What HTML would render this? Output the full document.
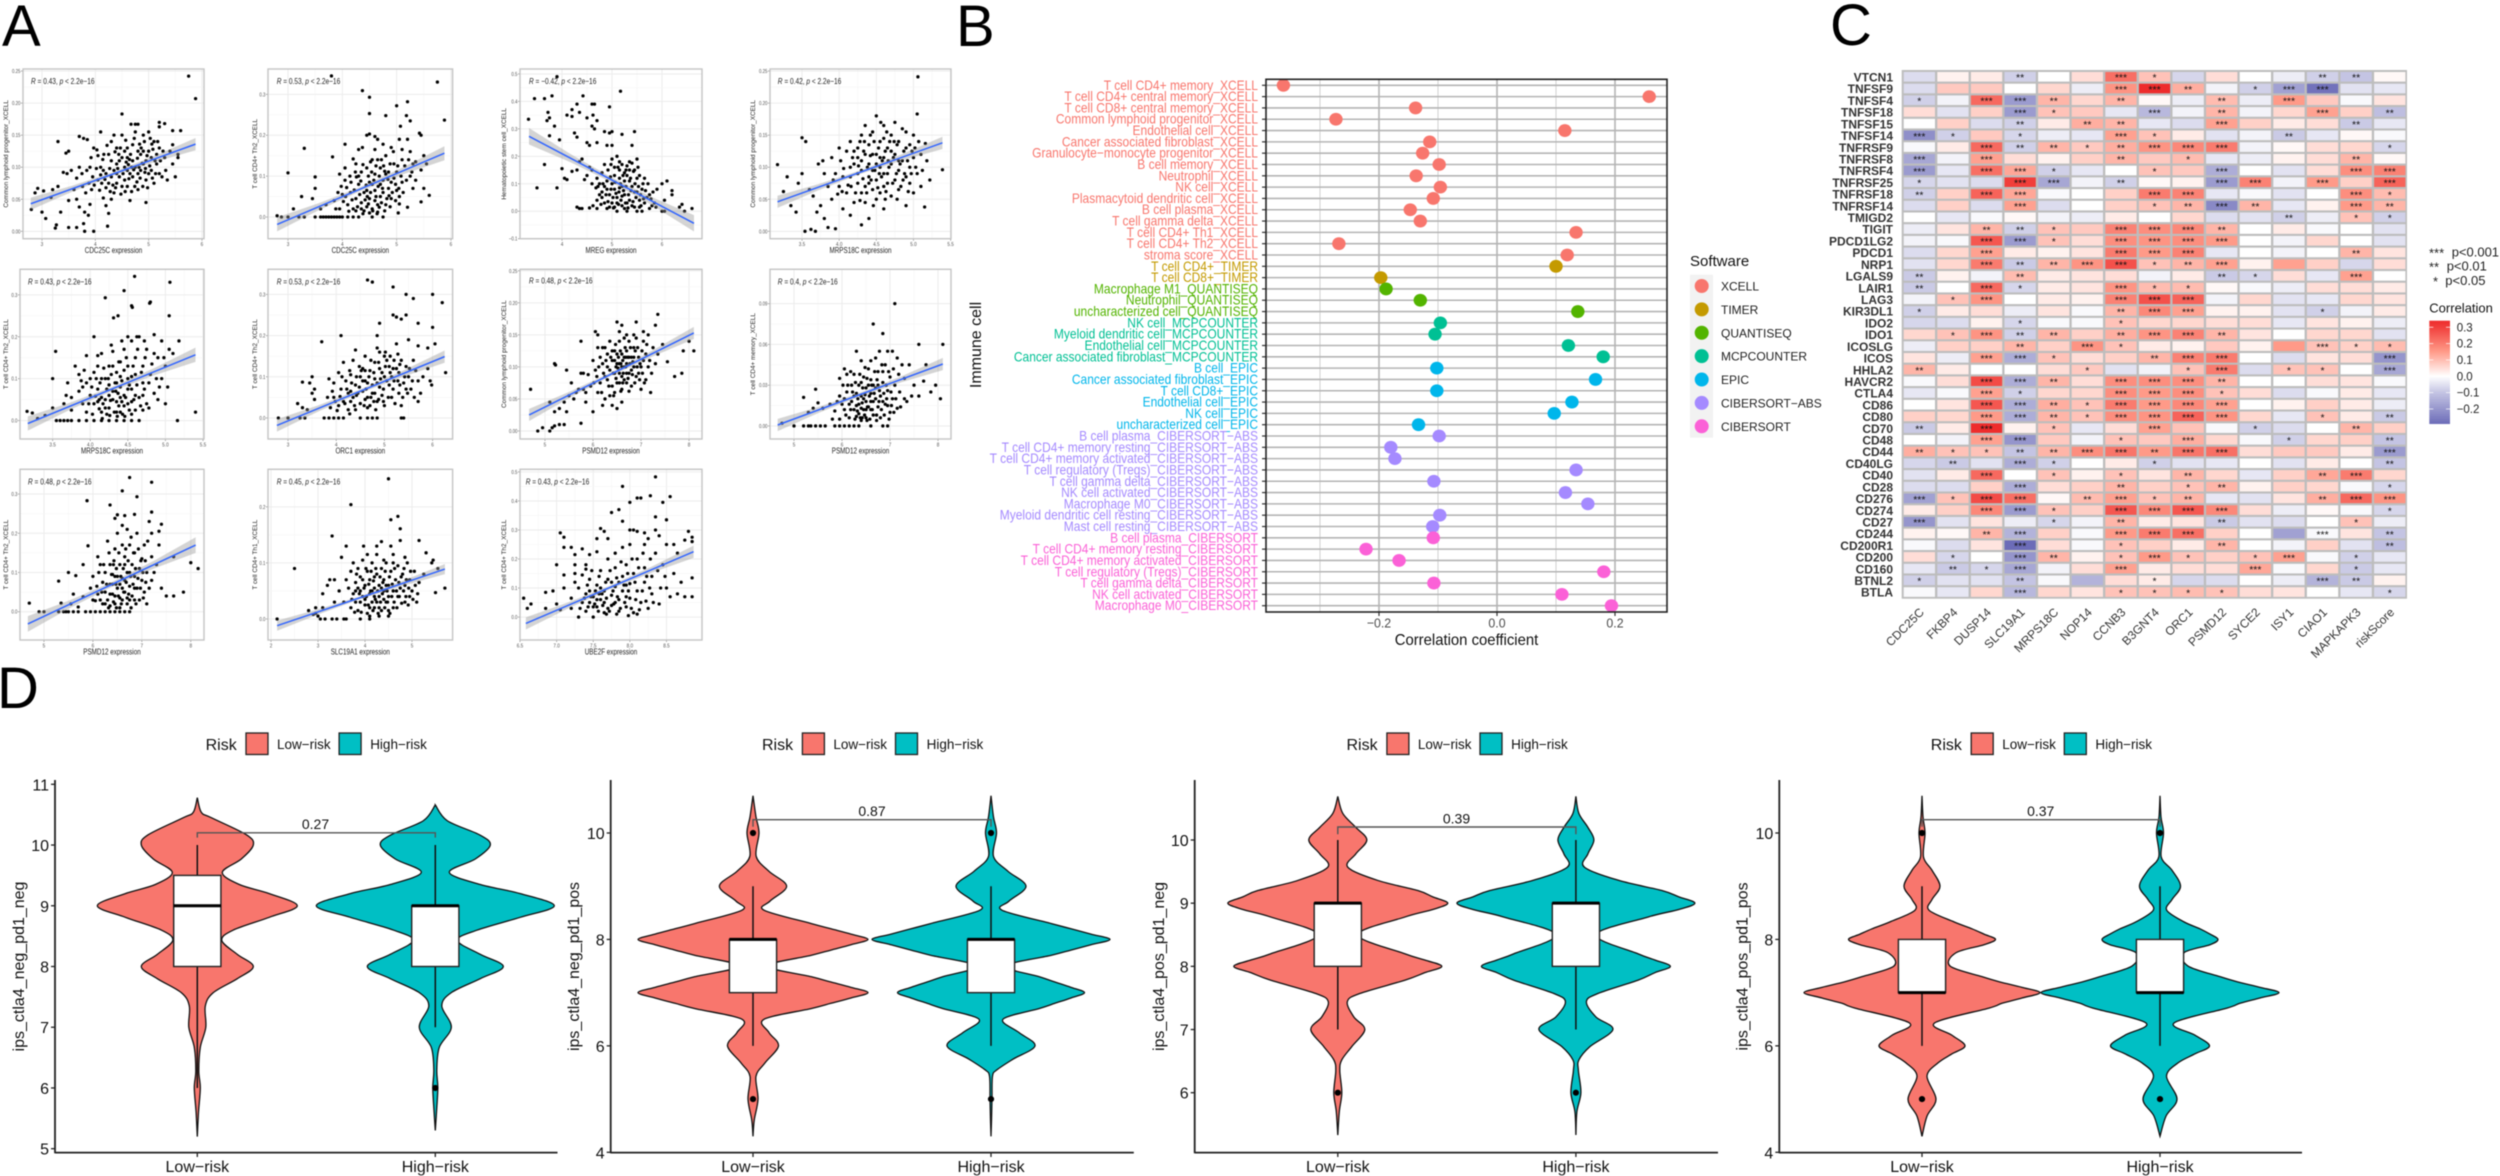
<!DOCTYPE html>
<html lang="en">
<head>
<meta charset="utf-8">
<title>Immune correlation figure</title>
<style>
html,body{margin:0;padding:0;background:#fff;width:2500px;height:1176px;overflow:hidden}
svg{display:block;filter:blur(.45px)}
text{font-family:"Liberation Sans",sans-serif}
</style>
</head>
<body>
<svg id="figure" xmlns="http://www.w3.org/2000/svg" width="2500" height="1176" viewBox="0 0 2500 1176">
<rect x="0" y="0" width="2500" height="1176" fill="#fff"/>
<text x="2" y="46" font-size="58">A</text>
<text x="956" y="46" font-size="58">B</text>
<text x="1830" y="45" font-size="58">C</text>
<text x="-3" y="708" font-size="58">D</text>
</svg>
<script>
/* ---------- panel A: scatter data, flat x,y pairs ---------- */
const scatter1 = [5.75,.242,5.88,.207,4.5,.183,4.1,.155,3.3,.14,5.2,.17,5.2,.163,5.3,.168,4.67,.167,4.75,.167,4.8,.167,2.8,.034,2.87,.06,2.92,.067,3.03,.063,3,.03,3.07,.02,3.17,.053,3.25,.005,3.27,.01,3.2,.065,3.3,.07,3.35,.03,3.5,.006,3.65,.006,3.78,.012,3.8,0,3.87,.025,3.97,0,4.23,.008,3.45,.122,3.5,.125,3.4,.092,3.47,.09,3.55,.095,3.6,.065,3.65,.083,3.7,.1,3.75,.09,3.7,.148,3.78,.145,3.85,.143,3.5,.048,3.65,.05,3.7,.038,3.8,.03,3.9,.042,3.93,.065,3.95,.085,3.97,.13,4.03,.127,4.05,.118,4.1,.1,4.12,.075,4.15,.052,4.2,.04,4.25,.028,4.3,.05,4.35,.06,4.2,.09,4.25,.12,4.3,.14,4.35,.15,4.4,.105,4.45,.085,4.5,.07,4.5,.15,4.55,.125,4.6,.095,4.6,.07,4.65,.048,4.7,.11,4.7,.135,4.75,.155,4.8,.09,4.8,.065,4.85,.12,4.9,.15,4.9,.105,4.95,.045,4.95,.08,5,.155,5,.125,5.05,.095,5.1,.075,5.1,.14,5.15,.105,5.2,.13,5.25,.085,5.3,.115,5.35,.08,5.4,.125,5.45,.105,5.45,.135,5.5,.085,5.55,.115,5.55,.12,5.6,.157,5.45,.157,5.2,.09,4.4,.13,4.55,.1,4.3,.085,4.15,.095,4.05,.08,3.9,.1,4.5,.115,4.65,.09,4.75,.1,4.85,.095,4.95,.11,4.4,.075,4.25,.075,4.6,.115,4.45,.11,4.3,.11,5,.09,5.05,.115,4.35,.095,4.1,.088,4.2,.068,4.55,.08,4.7,.085,4.9,.125,5.15,.12,4.8,.125,4.6,.13,4.4,.09];
const scatter1Core = [4.08,.064,4.14,.112,4.18,.081,4.22,.134,4.27,.098,4.33,.072,4.37,.124,4.42,.098,4.47,.13,4.48,.058,4.52,.09,4.57,.142,4.58,.108,4.63,.082,4.66,.12,4.68,.062,4.72,.096,4.73,.145,4.78,.077,4.79,.114,4.83,.136,4.84,.083,4.88,.106,4.89,.07,4.92,.14,4.93,.092,4.97,.118,4.98,.068,5.02,.102,5.03,.145,5.07,.083,5.08,.128,5.12,.11,5.13,.09,5.17,.14,5.22,.11,5.27,.125,5.32,.095,4.02,.098,3.98,.072,3.92,.115,3.88,.075,3.84,.095,3.82,.06,3.76,.07,4.44,.12,4.62,.104,4.74,.07,4.86,.13,4.64,.112,4.38,.068,4.28,.062,4.16,.12,4.82,.1,4.94,.098,5.06,.136,4.56,.062,4.68,.1];
const scatter2 = [5.75,.33,3.8,.345,4.37,.309,4.5,.293,5,.272,5.2,.282,4.5,.253,4.8,.248,5.18,.248,5.88,.237,5.25,.235,5.07,.222,3.3,.168,3,.108,3.5,.098,3.82,.147,5.42,.205,5.45,.2,5.2,.19,5.05,.19,4.45,.2,4.5,.203,4.6,.197,4.65,.19,4.2,.142,4.3,.165,4.37,.17,4.05,.178,4.6,.165,4.75,.178,4.9,.17,5.1,.165,5.25,.16,5.5,.15,5.3,.13,5.55,.13,5.45,.115,5.35,.09,5.5,.07,5.6,.053,5.45,.037,5.2,.024,5.05,.032,5.03,.01,3.45,.045,3.25,.05,3.5,.07,3.1,.02,3,0,2.8,.003,2.88,0,3.2,0,3.3,0,3.5,0,3.6,0,3.65,0,3.7,0,3.75,0,3.8,0,3.85,0,3.9,0,3.95,0,4,0,4.1,0,4.2,0,4.3,0,4.55,0,4.75,0,3.6,.02,3.7,.03,3.85,.04,3.95,.02,4,.055,4.05,.09,4.05,.12,3.95,.105,4.1,.03,4.15,.06,4.2,.02,4.25,.045,4.3,.08,4.3,.1,4.35,.035,4.4,.015,4.4,.06,4.45,.12,4.5,.085,4.5,.045,4.55,.14,4.55,.02,4.6,.065,4.6,.105,4.65,.03,4.7,.12,4.7,.05,4.75,.09,4.8,.15,4.8,.03,4.85,.07,4.85,.11,4.9,.045,4.95,.095,4.95,.13,5,.065,5,.11,5.05,.05,5.1,.085,5.15,.125,5.25,.1,5.3,.07,5.35,.135,4.45,.025,4.35,.11,4.65,.14,4.6,.04,4.75,.06,4.25,.015,4.35,.02,4.5,.01,4.65,.012,4.45,.065,4.7,.08,4.9,.085,4.55,.08,4.25,.13,4.8,.105,5.1,.14];
const scatter2Core = [4.02,.038,4.08,.072,4.12,.014,4.14,.1,4.18,.042,4.22,.066,4.24,.11,4.28,.025,4.32,.055,4.34,.088,4.38,.128,4.38,.008,4.42,.042,4.44,.078,4.48,.032,4.48,.1,4.52,.06,4.52,.135,4.56,.015,4.58,.09,4.62,.05,4.62,.125,4.64,.008,4.66,.075,4.68,.1,4.72,.035,4.72,.14,4.74,.07,4.78,.112,4.78,.015,4.82,.045,4.84,.092,4.88,.13,4.88,.025,4.92,.06,4.94,.16,4.98,.08,4.98,.04,5.02,.125,5.04,.07,5.08,.1,5.12,.06,5.18,.09,5.22,.14,5.28,.11,3.88,.02,3.92,.06,3.98,.075,4.06,.05,4.16,.085,4.26,.098,4.46,.05,4.54,.11,4.68,.024,4.76,.125,4.86,.052];
const scatter3 = [3.33,.335,3.45,.41,3.65,.41,3.8,.42,3.9,.49,4.42,.42,5.17,.437,4.6,.39,4.65,.39,4.3,.39,4.2,.37,4.1,.35,4.2,.345,4.35,.36,4.5,.34,4.62,.35,4.7,.33,4.6,.31,4.65,.3,4.95,.38,3.72,.36,3.75,.34,3.7,.33,3.85,.31,3.95,.26,3.75,.275,4.25,.285,4.3,.27,4.5,.25,4.55,.24,4.7,.25,4.85,.29,4.95,.285,5,.29,5.2,.28,5.45,.29,5.4,.24,4.9,.24,5,.24,3.5,.085,3.65,.17,3.9,.085,4,.155,4.05,.12,4.1,.115,4.2,.145,4.3,.15,4.35,.18,4.4,.19,4.45,.115,4.5,.13,4.6,.15,4.7,.12,4.8,.14,4.85,.17,4.9,.11,5,.19,5.1,.2,5.2,.17,5.3,.165,5.4,.175,5.5,.19,5.55,.13,5.65,.12,5.75,.06,5.9,.08,6,.1,6.1,.11,6.2,.075,6.2,.06,6.05,.04,6,0,6.05,0,6.35,.015,6.4,.025,6.6,.01,6.45,0,4.3,.015,4.35,.01,4.4,.01,4.7,.01,4.7,.04,4.75,.06,4.8,.07,4.85,.03,4.9,.01,4.95,.06,5,.1,5,.03,5.05,.08,5.1,0,5.1,.05,5.15,.12,5.2,.02,5.2,.09,5.25,.06,5.3,0,5.3,.13,5.35,.04,5.4,.09,5.4,.02,5.45,.07,5.5,0,5.5,.12,5.55,.04,5.6,.08,5.6,0,5.65,.03,5.7,.05,5.75,.01,5.8,.02,5.85,.03,4.9,.08,5.15,.15,5.25,.11,5.35,.15,5.45,.15,5.05,.13,4.85,.09,4.8,.05,5.3,.03,5.1,.03,5.2,.055,4.95,.015,5.25,.01,5.45,.015,5.55,.015,5.15,.085,5.35,.11,5.5,.07,5.05,.015];
const scatter3Core = [4.72,.09,4.78,.025,4.82,.1,4.88,.06,4.92,.035,4.97,.125,4.98,.08,5.02,.05,5.03,.012,5.06,.105,5.08,.065,5.12,.16,5.13,.025,5.14,.07,5.17,.1,5.18,.04,5.22,.13,5.23,.075,5.27,.03,5.28,.15,5.28,.09,5.32,.012,5.33,.06,5.37,.12,5.38,.075,5.42,.035,5.43,.145,5.46,.1,5.48,.05,5.52,.16,5.53,.09,5.57,.06,5.58,.02,5.62,.1,5.63,.045,5.67,.075,5.72,.1,5.78,.045,5.82,.07,5.88,.015,5.15,.18,5.35,.18,5.25,.14,4.92,.15,4.98,.17,5.05,.16,4.75,.1,4.6,.1,4.55,.16,4.62,.02,4.55,.012,4.68,.085];
const scatter4 = [3.17,.104,3.5,.146,3.55,.14,3.3,.085,3.25,.062,3.45,.075,3.5,.09,3.54,0,3.62,.003,3.68,0,3.85,.006,3.95,.004,3.35,.04,3.42,.03,3.6,.065,3.65,.055,3.7,.03,3.75,.04,3.8,.02,3.72,.105,3.78,.11,3.85,.07,3.9,.05,3.95,.09,4,.13,4.02,.11,4,.07,4.05,.035,4.1,.06,4.1,.125,4.15,.14,4.15,.085,4.2,.045,4.2,.105,4.25,.13,4.25,.075,4.3,.095,4.3,.15,4.3,.06,4.35,.12,4.35,.045,4.4,.085,4.4,.135,4.4,.105,4.45,.065,4.45,.155,4.45,.095,4.5,.12,4.5,.08,4.5,.05,4.55,.14,4.55,.1,4.6,.07,4.6,.115,4.6,.165,4.65,.09,4.65,.13,4.7,.055,4.7,.105,4.7,.15,4.75,.08,4.75,.12,4.8,.14,4.8,.095,4.8,.065,4.85,.11,4.85,.16,4.9,.085,4.9,.13,4.95,.1,4.95,.075,5,.115,5,.15,5.06,.241,5.05,.183,5.39,.096,5.15,.038,5.16,.137,5.05,.09,5.1,.12,5.1,.07,4.2,.125,4.25,.115,4.35,.07,4.55,.06,4.65,.075,4.15,.1,4.05,.085,4.35,.165,4.5,.18,4.6,.145,4.75,.17,4.4,.02,4.3,.01,4.15,.025,4.6,.035,4.9,.04,5,.06,3.9,.115,3.8,.09,4.45,.12,4.55,.115,4.3,.11,4.8,.11,4.6,.09,4.4,.075,4.7,.125,4.5,.105,4.25,.09,4.95,.135,5.02,.13];
const scatter4Core = [4.06,.098,4.12,.072,4.18,.115,4.22,.06,4.26,.102,4.28,.14,4.32,.082,4.33,.125,4.37,.06,4.38,.1,4.42,.118,4.43,.08,4.47,.14,4.48,.095,4.52,.068,4.53,.13,4.57,.085,4.58,.11,4.62,.125,4.63,.062,4.67,.1,4.68,.14,4.72,.075,4.73,.115,4.77,.09,4.78,.135,4.82,.105,4.83,.07,4.87,.125,4.88,.09,4.92,.11,4.93,.062,4.97,.09,4.98,.125,5.03,.1,5.07,.14,5.12,.095,5.18,.11,5.22,.08,4.16,.07,4.28,.048,4.46,.04,4.62,.05,4.78,.05,4.9,.155,4.42,.15,4.64,.155,4.56,.17,4.74,.14,3.98,.058,3.92,.08,4.04,.062,4.34,.14,4.54,.09,4.86,.08,4.66,.11];
const scatter5 = [4.59,.344,5.06,.33,4.2,.293,4.45,.31,4.55,.274,4.8,.283,4.31,.245,4.37,.25,4.56,.27,4.79,.28,5.05,.25,3.54,.165,3.5,.1,5.4,.02,5.16,0,3.16,.022,3.23,.018,5.03,.08,3.3,.005,3.4,.012,3.5,.03,3.55,0,3.6,0,3.65,0,3.7,0,3.75,0,3.85,0,3.95,0,4.05,0,4.15,0,4.25,0,4.35,0,4.45,0,4.55,0,4.65,0,3.65,.04,3.75,.025,3.7,.09,3.68,.06,3.75,.055,3.8,.13,3.85,.11,3.9,.08,3.9,.04,3.95,.155,3.95,.02,4,.06,4,.1,4.05,.2,4.05,.04,4.1,.13,4.1,.075,4.15,.02,4.15,.16,4.2,.05,4.2,.1,4.25,.13,4.25,.03,4.3,.07,4.3,.165,4.35,.045,4.35,.115,4.4,.14,4.4,.02,4.4,.08,4.45,.06,4.45,.17,4.5,.1,4.5,.04,4.5,.13,4.55,.19,4.55,.075,4.6,.025,4.6,.15,4.6,.11,4.65,.055,4.65,.2,4.7,.09,4.7,.13,4.75,.17,4.75,.04,4.8,.11,4.85,.205,4.85,.065,4.9,.15,4.95,.19,4.95,.1,5,.13,5,.04,5.05,.17,5.1,.16,5.18,.19,4.35,.09,4.25,.085,4.45,.035,4.15,.055,4.35,.02,4.1,.045,4.05,.115,4.3,.05,4.45,.12,4.55,.105,4.2,.03,4.25,.06,4.4,.055,4.5,.075,4.6,.06,4.3,.13,4.7,.06,4.4,.105,4.15,.1,4.55,.045,3.85,.07,3.95,.09];
const scatter5Core = [3.98,.04,4.02,.08,4.03,.015,4.07,.058,4.08,.1,4.12,.028,4.13,.09,4.17,.04,4.18,.125,4.22,.075,4.22,.015,4.27,.048,4.28,.11,4.32,.02,4.33,.09,4.37,.065,4.38,.14,4.38,.035,4.42,.095,4.43,.015,4.47,.055,4.48,.15,4.52,.085,4.52,.025,4.57,.13,4.58,.05,4.62,.085,4.63,.17,4.67,.035,4.68,.115,4.72,.075,4.73,.15,4.78,.09,4.78,.03,4.82,.135,4.88,.1,4.9,.05,3.92,.12,3.88,.095,4.1,.155,4.28,.18,4.42,.19,4.5,.2,4.62,.2,4.72,.19,4.85,.16,4.92,.08,4.98,.15,4.7,.025,4.16,.005,4.36,.01,4.46,.01,4.26,.012,4.12,.05,4.42,.045,4.55,.015,4.34,.07,4.24,.1];
const scatter6 = [4.65,.335,4.75,.33,5.18,.318,5.6,.29,5.45,.3,5.25,.245,6,.3,6.2,.28,5.18,.25,5.45,.25,5.7,.23,6,.22,5.35,.24,4.1,.2,3.7,.185,4.9,.23,4.85,.2,4.4,.165,4.9,.16,5.5,.19,5.7,.175,5.9,.17,6.05,.18,6.27,.11,3.3,.087,3.5,.1,3.45,.085,3.55,.07,3.5,.06,3.55,.045,3.2,.035,3.3,.025,3.4,.02,2.8,0,3,0,3.25,0,3.35,0,3.75,0,3.85,0,3.95,0,4.05,0,4.15,0,4.5,0,4.65,0,4.75,0,4.85,0,5.35,0,5.4,0,3.85,.095,3.95,.085,3.95,.05,4.05,.03,4.05,.11,4.1,.07,4.15,.135,4.15,.04,4.2,.09,4.25,.02,4.25,.06,4.3,.105,4.35,.05,4.35,.14,4.4,.08,4.4,.02,4.5,.035,4.5,.1,4.55,.065,4.55,.12,4.6,.045,4.6,.15,4.65,.085,4.7,.03,4.7,.115,4.75,.06,4.8,.135,4.8,.095,4.85,.04,4.85,.17,4.9,.075,4.9,.12,4.95,.055,5,.1,5,.15,5,.03,5.1,.08,5.1,.125,5.15,.05,5.2,.14,5.2,.09,5.25,.18,5.3,.11,5.3,.06,5.35,.03,5.35,.14,5.4,.085,5.45,.125,5.5,.1,5.55,.07,5.6,.14,5.65,.115,5.7,.04,5.7,.09,5.75,.06,5.8,.1,5.9,.12,5.95,.09,5.98,.08,5.05,.14,5.05,.09,4.75,.08,4.45,.06,4.3,.04,4.65,.025,4.6,.09,4.8,.06,4.95,.11,5.25,.12,5.15,.1];
const scatter6Core = [3.82,.05,3.88,.025,3.92,.065,3.98,.04,4.02,.018,4.08,.052,4.12,.1,4.18,.035,4.22,.07,4.28,.01,4.32,.085,4.38,.03,4.42,.055,4.48,.075,4.52,.115,4.58,.03,4.62,.07,4.68,.1,4.72,.05,4.78,.11,4.82,.02,4.88,.045,4.92,.095,4.98,.07,5.02,.125,5.08,.05,5.12,.11,5.18,.07,5.22,.035,5.28,.09,5.32,.13,5.38,.05,5.42,.1,5.48,.06,5.52,.12,5.58,.09,5.62,.05,5.12,.15,5.02,.16,4.72,.14,4.6,.115,4.28,.115,4.55,.09,4.85,.085,5.28,.155,5.45,.07,4.98,.04,4.78,.04,5.18,.12,4.42,.1,4.65,.05,4.88,.135,4.48,.125,4.3,.065,5.32,.08];
const scatter7 = [7.35,.182,6.9,.17,6.5,.17,6.6,.165,7.3,.165,7.15,.15,6.05,.155,6.1,.15,5.75,.14,5.2,.105,5.22,.103,5.45,.095,4.7,.065,5.75,.09,5.8,.09,7.88,.125,8.1,.125,7.55,.108,7.85,.09,7.7,.085,8,.14,5.1,.045,5.2,.03,5.3,.035,5.4,.045,5.45,.03,5.4,.01,4.85,0,4.95,.005,5.1,0,5.15,.005,5.2,.008,5.3,.01,5.75,.012,5.5,.055,5.65,.06,5.8,.065,5.85,.045,5.95,.07,6,.03,6.05,.095,6.1,.06,6.15,.115,6.2,.04,6.25,.13,6.3,.08,6.3,.1,6.35,.055,6.35,.14,6.4,.07,6.4,.11,6.45,.09,6.45,.125,6.5,.035,6.5,.075,6.5,.105,6.55,.14,6.55,.09,6.6,.12,6.6,.065,6.6,.085,6.65,.1,6.65,.145,6.7,.075,6.7,.125,6.7,.105,6.75,.09,6.75,.14,6.8,.115,6.8,.07,6.85,.1,6.85,.13,6.9,.085,6.9,.145,6.95,.115,7,.065,7,.1,7.05,.14,7.1,.08,7.1,.12,7.15,.1,7.2,.06,7.25,.13,7.35,.12,7.45,.135,6.55,.105,6.45,.11,6.6,.1,6.65,.115,6.5,.12,6.75,.115,6.7,.09,6.85,.115,6.35,.095,6.25,.085,6.2,.105,6.15,.075,6.4,.125,6.55,.075,6.8,.095,6.95,.09,7.05,.11,6.3,.12,6.45,.06,6.65,.08];
const scatter7Core = [6.02,.075,6.08,.085,6.12,.1,6.18,.06,6.22,.09,6.27,.11,6.33,.07,6.37,.115,6.42,.09,6.43,.055,6.47,.135,6.48,.082,6.52,.098,6.53,.115,6.57,.125,6.58,.062,6.62,.11,6.63,.09,6.67,.13,6.68,.1,6.72,.115,6.73,.082,6.77,.105,6.78,.13,6.82,.088,6.83,.108,6.87,.075,6.88,.125,6.92,.1,6.93,.13,6.97,.08,6.98,.105,7.02,.125,7.03,.09,7.07,.075,7.12,.135,7.18,.11,7.22,.09,7.3,.105,5.9,.088,5.85,.06,6,.11,6.1,.13,6.2,.13,6.55,.155,6.7,.15,6.85,.15,7.05,.155,6.25,.05,6.4,.04,6.6,.045,6.75,.062,5.7,.065,5.6,.05,5.55,.075,6.58,.105,6.68,.115,6.48,.1,6.62,.075];
const scatter8 = [7.1,.09,6.85,.068,6.65,.075,7.6,.06,7.75,.045,8.1,.06,6.3,.055,6.4,.048,6.05,.042,5.95,.035,5.45,.027,5.2,.021,5.5,.017,5.3,.01,5.4,.013,4.75,.002,5,0,5.2,0,5.3,0,5.35,0,5.45,0,5.55,0,5.65,0,5.85,0,5.95,0,6.05,0,6.15,0,6.25,0,6.35,0,6.6,0,6.85,0,6.95,0,5.6,.013,5.75,.016,5.85,.011,5.95,.005,5.95,.022,6.05,.012,6.1,.025,6.15,.006,6.2,.018,6.2,.03,6.25,.012,6.25,.038,6.3,.024,6.3,.007,6.35,.016,6.35,.03,6.4,.004,6.4,.022,6.45,.012,6.45,.036,6.5,.028,6.5,.018,6.5,.006,6.55,.014,6.55,.042,6.6,.024,6.6,.034,6.65,.008,6.65,.018,6.7,.028,6.7,.05,6.75,.014,6.75,.04,6.8,.022,6.8,.006,6.85,.032,6.9,.016,6.9,.045,6.95,.026,7,.01,7,.036,7.05,.02,7.1,.03,7.15,.05,7.15,.013,7.2,.025,7.3,.035,7.35,.018,7.4,.045,7.5,.03,7.6,.022,7.7,.033,7.85,.025,7.95,.03,8.05,.02,6.45,.02,6.55,.03,6.35,.009,6.6,.012,6.4,.032,6.7,.02,6.25,.022,6.15,.016,6.05,.02,6.75,.03,6.85,.018,6.95,.015,6.3,.015,6.5,.012,6.6,.018,6.4,.013,6.65,.03,6.85,.04];
const scatter8Core = [6.08,.008,6.12,.03,6.18,.012,6.22,.025,6.27,.005,6.28,.032,6.32,.011,6.33,.02,6.37,.038,6.38,.006,6.42,.017,6.43,.028,6.47,.008,6.48,.023,6.52,.035,6.53,.014,6.57,.022,6.58,.005,6.62,.03,6.63,.012,6.67,.024,6.68,.04,6.72,.008,6.73,.034,6.77,.018,6.78,.026,6.82,.012,6.83,.045,6.87,.024,6.88,.008,6.92,.03,6.93,.02,6.97,.04,6.98,.005,7.02,.025,7.03,.015,7.07,.042,7.08,.01,7.12,.02,7.18,.038,7.22,.014,7.25,.045,7.05,.055,6.95,.055,6.78,.055,6.6,.048,5.9,.018,5.8,.005,6,.016,6.02,.03,6.1,.038,6.48,.043,6.18,.04,7.3,.02,7.45,.022,6.52,.004,6.72,.004,6.42,.006];
const scatter9 = [6.75,.342,7.2,.33,6.6,.308,6.9,.293,5.88,.283,6.35,.272,6.5,.247,6.85,.248,6.45,.238,6.65,.245,7.2,.254,7.4,.223,7.15,.23,7.35,.205,7.2,.2,5.3,.078,5.65,.092,5.9,.168,5.35,.022,5.5,.1,5.8,.12,4.7,.022,4.9,0,5,0,5.3,0,5.4,0,5.45,0,5.5,0,5.6,0,5.7,0,5.85,0,5.95,0,6.05,0,6.15,0,6.25,0,6.35,0,6.45,0,6.55,0,6.65,0,6.75,0,5.55,.02,5.6,.045,5.7,.012,5.8,.038,5.95,.06,6,.09,6,.03,6.1,.045,6.1,.14,6.15,.12,6.2,.075,6.2,.02,6.25,.1,6.25,.05,6.3,.18,6.3,.03,6.35,.12,6.35,.07,6.4,.045,6.4,.095,6.45,.16,6.45,.02,6.5,.2,6.5,.06,6.55,.12,6.55,.035,6.6,.085,6.6,.17,6.65,.05,6.65,.14,6.7,.1,6.7,.02,6.75,.17,6.75,.065,6.8,.12,6.8,.04,6.85,.09,6.85,.15,6.9,.06,6.9,.2,6.95,.11,6.95,.03,7,.135,7,.08,7.05,.17,7.05,.05,7.1,.1,7.1,.02,7.2,.14,7.2,.08,7.3,.12,7.35,.17,7.4,.06,7.5,.04,7.65,.14,7.65,.04,7.85,.05,8,.125,8.15,.11,6.4,.07,6.5,.09,6.6,.06,6.7,.035,6.55,.01,6.45,.04,6.35,.015,6.75,.1,6.65,.08,6.85,.03];
const scatter9Core = [6.05,.028,6.08,.065,6.12,.1,6.18,.05,6.22,.12,6.28,.07,6.32,.01,6.33,.15,6.38,.095,6.42,.025,6.43,.13,6.47,.07,6.48,.11,6.52,.04,6.53,.15,6.57,.09,6.58,.02,6.62,.11,6.63,.05,6.67,.16,6.68,.075,6.72,.13,6.73,.045,6.77,.09,6.78,.19,6.82,.07,6.83,.15,6.87,.11,6.88,.02,6.92,.085,6.93,.16,6.97,.06,6.98,.13,7.02,.1,7.03,.035,7.07,.13,7.08,.075,7.12,.18,7.15,.06,7.25,.1,6.75,.03,6.6,.03,6.45,.09,6.55,.07,6.35,.045,6.25,.02,6.15,.03,6.42,.12,6.65,.12,6.85,.06,6.7,.21,6.6,.22,6.78,.01,6.48,.01];
const scatter10 = [4.5,.25,3.7,.204,3.3,.148,4.55,.177,4.7,.183,4.75,.161,3.6,.13,3.5,.11,3.97,.13,4.25,.13,4.35,.138,4.25,.115,4.55,.13,4.6,.115,4.75,.14,5.15,.14,5.3,.118,5.45,.105,5.55,.09,5.42,.1,5.25,.08,5.7,.055,5.5,.047,2.5,.09,2.13,0,2.9,.008,2.95,.01,3,.005,2.8,.015,2.95,.02,3.1,.02,3.1,.045,3.2,.06,3.25,.07,3.05,0,3.3,0,3.15,0,3.4,0,3.55,0,3.6,0,3.9,0,4.1,0,3.35,.07,3.35,.03,3.45,.05,3.55,.03,3.6,.07,3.65,.055,3.7,.085,3.7,.02,3.75,.045,3.75,.1,3.8,.03,3.8,.065,3.85,.09,3.85,.015,3.9,.05,3.9,.075,3.95,.04,3.95,.105,4,.025,4,.06,4.05,.085,4.05,.01,4.1,.045,4.1,.07,4.15,.1,4.15,.03,4.2,.055,4.2,.02,4.25,.08,4.3,.04,4.3,.06,4.35,.09,4.35,.015,4.4,.05,4.4,.07,4.45,.03,4.45,.1,4.5,.06,4.5,.04,4.55,.085,4.6,.02,4.6,.05,4.65,.07,4.7,.04,4.7,.095,4.75,.055,4.8,.08,4.85,.03,4.85,.06,4.9,.1,4.95,.04,4.95,.07,5,.05,5.05,.085,5.1,.03,5.15,.065,4,.035,3.9,.03,4.1,.02,4.2,.04,4.3,.02,4.4,.035,4.5,.015,3.8,.05,4.25,.03,3.95,.07,4.15,.05,4.35,.055];
const scatter10Core = [3.72,.035,3.78,.012,3.82,.08,3.88,.045,3.92,.012,3.98,.055,4.02,.09,4.03,.04,4.07,.025,4.08,.062,4.12,.05,4.13,.085,4.17,.015,4.18,.068,4.22,.035,4.23,.09,4.27,.05,4.28,.01,4.32,.075,4.33,.03,4.37,.045,4.38,.065,4.42,.02,4.43,.085,4.47,.05,4.48,.03,4.52,.075,4.53,.01,4.57,.04,4.58,.062,4.62,.03,4.63,.09,4.67,.05,4.68,.02,4.72,.065,4.73,.04,4.77,.075,4.78,.028,4.82,.05,4.83,.09,4.87,.04,4.88,.07,4.92,.025,4.93,.055,4.97,.085,5.02,.035,5.07,.06,5.12,.045,4.05,.115,4.4,.105,4.6,.1,4.85,.11,4.2,.075,4.45,.06,4.3,.005,4.1,.005,4.5,.005,3.85,.055];
const scatter11 = [8.35,.483,7.9,.45,8,.395,8.15,.41,8.28,.418,8.1,.41,8.55,.415,7.85,.37,7.75,.36,8.45,.395,8.35,.345,8.5,.335,7.9,.33,7.6,.305,7.65,.295,8,.3,8.05,.3,8.1,.295,8.2,.29,8.35,.3,8.8,.295,8.85,.275,8.75,.265,8.85,.26,7.05,.29,7.1,.275,7.55,.27,7.7,.27,6.55,.065,6.6,.03,6.85,.085,6.95,.09,7,.18,7.25,.18,7.4,.18,7.1,.1,6.65,.045,6.85,.03,7.2,.065,7,.045,7.05,.025,7.1,.24,7.2,.24,7.25,.215,7.35,.235,7.55,.225,7.45,.215,7.4,.165,7.25,.15,7.1,.145,7.35,.145,7.25,.12,7.2,.03,7.3,.1,7.3,0,7.4,.02,7.4,.08,7.45,.05,7.45,.13,7.5,.07,7.5,0,7.55,.11,7.55,.035,7.6,.16,7.6,.06,7.65,.09,7.65,.015,7.7,.2,7.7,.13,7.75,.04,7.75,.075,7.8,.17,7.8,.105,7.85,.02,7.85,.06,7.9,.14,7.9,.09,7.95,.035,7.95,.18,8,.115,8,.065,8.05,.015,8.05,.15,8.1,.2,8.1,.09,8.15,.05,8.2,.17,8.2,.12,8.25,.03,8.3,.08,8.3,.14,8.35,.22,8.4,.045,8.45,.18,8.5,.25,8.5,.1,8.6,.15,8.7,.12,8.75,.07,8.85,.135,8.85,.07,7.55,.06,7.65,.05,7.45,.09,7.7,.03,7.35,.05,7.6,.1,7.8,.05,7.85,.12,7.95,.07];
const scatter11Core = [7.32,.03,7.38,.065,7.42,.11,7.43,.035,7.47,.07,7.48,.16,7.52,.045,7.53,.09,7.57,.02,7.58,.14,7.62,.08,7.63,.04,7.67,.12,7.68,.065,7.72,.02,7.73,.16,7.77,.09,7.78,.045,7.82,.135,7.83,.07,7.87,.03,7.88,.19,7.92,.11,7.93,.05,7.97,.15,7.98,.09,8.02,.03,8.03,.2,8.07,.12,8.08,.06,8.12,.17,8.13,.025,8.17,.09,8.18,.22,8.22,.055,8.23,.14,8.27,.1,8.28,.2,8.32,.05,8.38,.16,8.42,.1,8.48,.14,8.55,.07,8.6,.25,8.65,.22,8.65,.08,7.8,.22,7.9,.24,8,.25,8.2,.25,8.25,.27,8.4,.28,7.95,.11,7.75,.12,7.58,.08,7.5,.035,7.68,.01,7.82,.01,7.98,.005,8.1,.01];
const scatterR = ['0.43','0.53','\u22120.42','0.42','0.43','0.53','0.48','0.4','0.48','0.45','0.43'];
const scatterXLabels = ['CDC25C expression','CDC25C expression','MREG expression','MRPS18C expression','MRPS18C expression','ORC1 expression','PSMD12 expression','PSMD12 expression','PSMD12 expression','SLC19A1 expression','UBE2F expression'];
const scatterYLabels = ['Common lymphoid progenitor_XCELL','T cell CD4+ Th2_XCELL','Hematopoietic stem cell_XCELL','Common lymphoid progenitor_XCELL','T cell CD4+ Th2_XCELL','T cell CD4+ Th2_XCELL','Common lymphoid progenitor_XCELL','T cell CD4+ memory_XCELL','T cell CD4+ Th2_XCELL','T cell CD4+ Th1_XCELL','T cell CD4+ Th2_XCELL'];
const scatterXTicks = [[3,4,5,6],[3,4,5,6],[4,5,6],[3.5,4,4.5,5,5.5],[3.5,4,4.5,5,5.5],[3,4,5,6],[5,6,7,8],[5,6,7,8],[5,6,7,8],[2,3,4,5],[6.5,7,7.5,8,8.5]];
const scatterYTicks = [[0,.05,.1,.15,.2,.25],[0,.1,.2,.3],[-.1,0,.1,.2,.3,.4,.5],[0,.05,.1,.15,.2,.25],[0,.1,.2,.3],[0,.1,.2,.3],[0,.05,.1,.15,.2,.25],[0,.03,.06,.09],[0,.1,.2,.3],[0,.1,.2],[0,.1,.2,.3,.4,.5]];
const scatterYTickDigits = [2,1,1,2,1,1,2,2,1,1,1];
const fitStartX = [2.79,2.8,3.34,3.17,3.17,2.77,4.67,4.66,4.67,2.13,6.58];
const fitEndX = [5.88,5.88,6.64,5.39,5.4,6.25,8.1,8.1,8.1,5.7,8.87];
const fitStartY = [.043,-.018,.273,.046,-.007,-.018,.025,.0007,-.031,-.012,-.022];
const fitEndY = [.136,.156,-.044,.138,.157,.149,.153,.0456,.17,.089,.225];
const fitCI = [.0095,.017,.03,.0095,.017,.015,.0095,.0045,.02,.009,.021];

/* ---------- panel B: dot plot ---------- */
const immuneCells = ['T cell CD4+ memory_XCELL','T cell CD4+ central memory_XCELL','T cell CD8+ central memory_XCELL','Common lymphoid progenitor_XCELL','Endothelial cell_XCELL','Cancer associated fibroblast_XCELL','Granulocyte\u2212monocyte progenitor_XCELL','B cell memory_XCELL','Neutrophil_XCELL','NK cell_XCELL','Plasmacytoid dendritic cell_XCELL','B cell plasma_XCELL','T cell gamma delta_XCELL','T cell CD4+ Th1_XCELL','T cell CD4+ Th2_XCELL','stroma score_XCELL','T cell CD4+_TIMER','T cell CD8+_TIMER','Macrophage M1_QUANTISEQ','Neutrophil_QUANTISEQ','uncharacterized cell_QUANTISEQ','NK cell_MCPCOUNTER','Myeloid dendritic cell_MCPCOUNTER','Endothelial cell_MCPCOUNTER','Cancer associated fibroblast_MCPCOUNTER','B cell_EPIC','Cancer associated fibroblast_EPIC','T cell CD8+_EPIC','Endothelial cell_EPIC','NK cell_EPIC','uncharacterized cell_EPIC','B cell plasma_CIBERSORT\u2212ABS','T cell CD4+ memory resting_CIBERSORT\u2212ABS','T cell CD4+ memory activated_CIBERSORT\u2212ABS','T cell regulatory (Tregs)_CIBERSORT\u2212ABS','T cell gamma delta_CIBERSORT\u2212ABS','NK cell activated_CIBERSORT\u2212ABS','Macrophage M0_CIBERSORT\u2212ABS','Myeloid dendritic cell resting_CIBERSORT\u2212ABS','Mast cell resting_CIBERSORT\u2212ABS','B cell plasma_CIBERSORT','T cell CD4+ memory resting_CIBERSORT','T cell CD4+ memory activated_CIBERSORT','T cell regulatory (Tregs)_CIBERSORT','T cell gamma delta_CIBERSORT','NK cell activated_CIBERSORT','Macrophage M0_CIBERSORT'];
const correlationValues = [-.362,.258,-.138,-.273,.115,-.114,-.126,-.098,-.137,-.096,-.108,-.147,-.13,.134,-.268,.119,.1,-.197,-.188,-.13,.137,-.096,-.105,.121,.18,-.102,.167,-.102,.127,.097,-.133,-.098,-.18,-.173,.134,-.107,.116,.154,-.097,-.109,-.108,-.222,-.166,.181,-.107,.11,.194];
const softwareNames = ['XCELL','TIMER','QUANTISEQ','MCPCOUNTER','EPIC','CIBERSORT\u2212ABS','CIBERSORT'];
const softwareCounts = [16,2,3,4,6,9,7];
const softwareColors = ['#F8766D','#C49A00','#53B400','#00C094','#00B6EB','#A58AFF','#FB61D7'];
const corrMajorTicks = [-.2,0,.2];
const corrTickLabels = ['\u22120.2','0.0','0.2'];
const corrMinorTicks = [-.3,-.1,.1];

/* ---------- panel C: heatmap (correlation x100, stars = significance level) ---------- */
const heatGenes = ['VTCN1','TNFSF9','TNFSF4','TNFSF18','TNFSF15','TNFSF14','TNFRSF9','TNFRSF8','TNFRSF4','TNFRSF25','TNFRSF18','TNFRSF14','TMIGD2','TIGIT','PDCD1LG2','PDCD1','NRP1','LGALS9','LAIR1','LAG3','KIR3DL1','IDO2','IDO1','ICOSLG','ICOS','HHLA2','HAVCR2','CTLA4','CD86','CD80','CD70','CD48','CD44','CD40LG','CD40','CD28','CD276','CD274','CD27','CD244','CD200R1','CD200','CD160','BTNL2','BTLA'];
const heatColumns = ['CDC25C','FKBP4','DUSP14','SLC19A1','MRPS18C','NOP14','CCNB3','B3GNT4','ORC1','PSMD12','SYCE2','ISY1','CIAO1','MAPKAPK3','riskScore'];
const heatValues = [
[-6,2,3,-8,0,5,22,9,-7,5,0,-3,-8,-10,1],
[-6,8,8,0,6,-3,16,33,12,-2,-8,-16,-24,-5,-4],
[-8,-2,23,-17,11,6,11,1,-3,10,-3,15,8,-1,4],
[5,-5,7,-17,9,8,-4,-12,-2,11,-2,6,14,7,-11],
[0,7,-6,-8,3,12,11,-4,-6,14,7,3,5,-9,-4],
[-19,-8,8,-7,-3,-4,14,9,3,-5,-2,-9,-4,1,-1],
[-1,3,23,-8,11,8,12,16,18,20,-2,1,5,6,-7],
[-15,-2,14,5,2,7,11,8,10,-4,-3,2,5,11,1],
[-17,-4,22,13,-8,-4,0,9,8,-14,0,-5,5,17,19],
[-7,-5,-6,30,-15,-2,-8,1,2,-17,19,-2,15,7,24],
[-8,7,24,13,-1,0,7,20,19,-4,-1,-5,0,17,10],
[-6,7,-6,14,-6,0,7,9,11,-20,11,-4,2,15,11],
[0,-4,-1,1,-2,-3,3,0,6,-6,-5,-8,-3,9,-8],
[-3,4,11,-8,9,8,19,17,18,11,0,3,-1,0,-5],
[-2,-1,26,-17,9,5,17,16,17,15,0,-2,6,0,-5],
[-6,6,14,3,2,4,20,15,19,-4,0,-2,0,11,4],
[-5,6,20,-9,11,16,27,9,11,14,2,14,7,-7,5],
[-9,2,-2,10,3,4,5,-2,3,-9,-7,5,-4,14,0],
[-9,0,23,-7,3,4,16,10,10,1,-1,-3,5,5,3],
[-2,9,16,0,3,2,19,27,24,-2,6,-5,-4,6,4],
[-8,3,5,-3,4,-1,11,18,14,2,2,-5,-8,-2,3],
[-7,-6,2,-7,-1,-1,9,6,6,5,5,-4,4,2,-3],
[6,9,16,-8,11,7,12,16,19,11,4,0,6,6,-5],
[-3,7,7,11,7,16,9,3,2,8,2,15,9,7,10],
[4,-3,14,-14,9,5,7,11,19,20,0,-6,4,5,-18],
[11,3,0,0,5,8,-5,-2,9,20,-6,9,9,0,-15],
[-1,5,28,-14,11,5,17,17,17,11,0,0,5,4,-1],
[-4,-1,14,-8,6,6,17,15,17,9,5,-6,-1,3,-4],
[0,4,26,-14,12,9,20,15,18,14,0,2,7,3,-3],
[7,6,15,-14,11,9,17,16,24,16,6,-4,9,3,-9],
[-9,3,33,2,9,-4,5,14,9,-1,-8,-6,0,11,7],
[0,-2,14,-18,8,-2,9,8,12,6,-1,-8,6,7,-10],
[12,9,9,-10,11,17,21,15,21,22,5,8,8,3,-17],
[-7,-9,-5,-14,-8,0,3,-8,-5,-4,0,-5,3,0,-10],
[-5,3,23,0,9,2,9,4,11,6,-4,7,13,20,6],
[-6,-6,7,-14,5,7,11,7,9,11,2,7,6,-1,-7],
[-16,9,28,22,1,10,14,9,11,-4,-5,4,12,23,16],
[3,7,18,-17,9,7,26,18,26,18,5,-3,1,-1,-7],
[-18,-5,4,-3,-7,-2,11,3,4,-9,-5,-6,0,9,-3],
[2,1,11,-13,7,-1,15,20,22,7,0,-16,-1,4,-10],
[-1,-6,4,-25,5,-1,9,7,3,11,0,-2,7,-5,-11],
[5,-7,0,-18,11,2,9,15,9,7,9,14,-1,-8,-4],
[-4,-9,-7,-15,-2,5,14,3,5,5,13,-1,6,-9,-4],
[-8,-5,-5,-10,-1,-13,5,3,-7,-6,0,-3,-13,-9,2],
[-1,-4,6,-12,6,4,9,9,10,9,5,4,0,-4,-7]];
const heatStars = ['000200310000220','000000332013300','103320200203000','000310030200302','000202200300020','310100310002000','003221233300001','303000201000020','303310010300033','100330200330303','203300033000031','000300012320032','000000000002011','002210333200000','003310333300000','003000333000020','003223312300000','200200000210030','203100311000000','013000333000000','100000233000100','000100100000000','013220233200000','000203100000311','003310023300003','200001001301103','003320333200000','003100333100000','003321333300000','003321333300102','203010030010020','003300103001002','211223323300003','020310010000002','003010102000230','000300201200001','313302312000233','003310333300001','300010200200010','002300333000302','000300100200002','010320131013010','021300300030010','100200010000320','000300111100001'];
const heatLegendTicks = [.3,.2,.1,0,-.1,-.2];
const heatLegendLabels = ['0.3','0.2','0.1','0.0','\u22120.1','\u22120.2'];

/* ---------- panel D: violins; each density is half-width, 1 = full peak ---------- */
const riskGroups = ['Low\u2212risk','High\u2212risk'];
const violinTitles = ['ips_ctla4_neg_pd1_neg','ips_ctla4_neg_pd1_pos','ips_ctla4_pos_pd1_neg','ips_ctla4_pos_pd1_pos'];
const violinPValues = ['0.27','0.87','0.39','0.37'];
const violinYTicks = [[5,6,7,8,9,10,11],[4,6,8,10],[6,7,8,9,10],[4,6,8,10]];
const v1LowY = [10.78,10.54,10.45,10.17,10,9.77,9.55,9.35,9.2,9,8.81,8.6,8.43,8.2,8,7.8,7.57,7.35,7,6.67,6.28,6,5.6,5.2];
const v1LowD = [0,.04,.14,.49,.56,.44,.25,.42,.72,1,.72,.36,.245,.4,.56,.4,.16,.08,.085,.03,.015,.03,.012,0];
const v1HighY = [10.66,10.4,10.17,10,9.77,9.55,9.35,9.2,9,8.81,8.6,8.43,8.2,8,7.8,7.57,7.35,7,6.67,6.3,6,5.6,5.3];
const v1HighD = [0,.12,.44,.55,.4,.14,.45,.85,1.19,.85,.42,.22,.45,.68,.45,.16,.065,.16,.04,.015,.025,.012,0];
const v2LowY = [10.7,10.3,10,9.56,9.28,9,8.72,8.55,8.3,8.2,8.1,8,7.9,7.8,7.7,7.5,7.3,7.2,7.1,7,6.9,6.8,6.7,6.5,6.25,6,5.68,5.43,5,4.6,4.3];
const v2LowD = [0,.03,.06,.032,.16,.336,.17,.11,.58,.78,.98,1.15,.98,.78,.58,.14,.58,.78,.98,1.15,.98,.78,.58,.11,.16,.255,.12,.03,.05,.012,0];
const v2HighY = [10.7,10.3,10,9.56,9.28,9,8.72,8.55,8.3,8.2,8.1,8,7.9,7.8,7.7,7.5,7.3,7.2,7.1,7,6.9,6.8,6.7,6.5,6.25,6,5.75,5.55,5.43,5,4.6,4.3];
const v2HighD = [0,.025,.055,.025,.17,.35,.18,.11,.6,.8,1,1.19,1,.8,.6,.14,.48,.64,.8,.935,.8,.64,.48,.12,.28,.44,.22,.06,.015,.01,.005,0];
const v3LowY = [10.69,10.42,10.2,10,9.78,9.57,9.36,9.2,9.1,9,8.9,8.78,8.5,8.2,8.1,8,7.9,7.78,7.57,7.44,7.2,7,6.73,6.52,6.35,6,5.7,5.33];
const v3LowD = [0,.05,.18,.29,.18,.1,.4,.8,.95,1.1,.95,.67,.2,.67,.87,1.04,.87,.67,.22,.095,.16,.27,.14,.04,.02,.04,.015,0];
const v3HighY = [10.69,10.42,10.2,10,9.78,9.57,9.36,9.2,9.1,9,8.9,8.78,8.5,8.2,8.1,8,7.9,7.78,7.57,7.44,7.2,7,6.73,6.52,6.35,6,5.7,5.33];
const v3HighD = [0,.03,.12,.18,.12,.085,.43,.86,1.03,1.19,1.03,.72,.2,.62,.79,.945,.79,.62,.22,.105,.2,.37,.14,.03,.025,.05,.01,0];
const v4LowY = [10.7,10.3,10,9.55,9.3,9,8.75,8.55,8.33,8.2,8.1,8,7.9,7.75,7.5,7.3,7.2,7.1,7,6.9,6.8,6.71,6.43,6.2,6,5.85,5.68,5.43,5,4.68,4.3];
const v4LowD = [0,.01,.03,.015,.1,.18,.1,.07,.32,.5,.62,.735,.62,.34,.28,.6,.78,1,1.18,1,.8,.67,.125,.3,.43,.3,.16,.05,.14,.05,0];
const v4HighY = [10.7,10.3,10,9.55,9.3,9,8.75,8.55,8.33,8.2,8.1,8,7.9,7.75,7.5,7.3,7.2,7.1,7,6.9,6.8,6.71,6.43,6.2,6,5.85,5.68,5.43,5,4.68,4.3];
const v4HighD = [0,.01,.035,.012,.12,.205,.12,.067,.24,.4,.5,.58,.5,.24,.28,.6,.78,1,1.19,1,.8,.67,.14,.35,.495,.35,.18,.065,.17,.06,0];
/* box stats: whisker low, q1, median, q3, whisker high, then outliers */
const v1LowBox = [6,8,9,9.5,10];
const v1HighBox = [7,8,9,9,10];
const v2LowBox = [6,7,8,8,9];
const v2HighBox = [6,7,8,8,9];
const v3LowBox = [7,8,9,9,10];
const v3HighBox = [7,8,9,9,10];
const v4LowBox = [6,7,7,8,9];
const v4HighBox = [6,7,7,8,9];
const v1LowOutliers = [];
const v1HighOutliers = [6];
const v2LowOutliers = [10,5];
const v2HighOutliers = [10,5];
const v3LowOutliers = [6];
const v3HighOutliers = [6];
const v4LowOutliers = [10,5];
const v4HighOutliers = [10,5];

/* ---------- helpers ---------- */
const NS = 'http://www.w3.org/2000/svg';
const root = document.getElementById('figure');
function make(tag, attrs, parent, text) {
  const e = document.createElementNS(NS, tag);
  for (const k in attrs) e.setAttribute(k, attrs[k]);
  if (text !== undefined) e.textContent = text;
  (parent || root).appendChild(e);
  return e;
}
function group(parent, name) {
  const g = make('g', {}, parent);
  
  
  return g;
}
function tickLine(parent, x1, y1, x2, y2, stroke, w) {
  const l = make('line', {x1, y1, x2, y2, stroke, 'stroke-width': w}, parent);
  
  
  return l;
}
function gridLine(parent, x1, y1, x2, y2, stroke, w) {
  const l = make('line', {x1, y1, x2, y2, stroke, 'stroke-width': w}, parent);
  
  
  return l;
}
function tickText(parent, x, y, s, size, fill, anchor, sx) {
  const t = make('text', {transform: 'translate(' + x + ',' + y + ') scale(' + (sx || 1) + ',1)', 'font-size': size, fill, 'text-anchor': anchor}, parent, s);
  
  
  return t;
}
function titleText(parent, x, y, s, size, fill, anchor, rotate, sx) {
  const tr = 'translate(' + x + ',' + y + ')' + (rotate ? ' rotate(' + rotate + ')' : '') + ' scale(' + (sx || 1) + ',1)';
  const t = make('text', {transform: tr, 'font-size': size, fill, 'text-anchor': anchor}, parent, s);
  
  
  return t;
}
function legendText(parent, x, y, s, size, fill) {
  const t = make('text', {x, y, 'font-size': size, fill}, parent, s);
  
  
  return t;
}

/* ---------- panel A ---------- */
const scatterSeries = [scatter1.concat(scatter1Core),scatter2.concat(scatter2Core),scatter3.concat(scatter3Core),scatter4.concat(scatter4Core),scatter5.concat(scatter5Core),scatter6.concat(scatter6Core),scatter7.concat(scatter7Core),scatter8.concat(scatter8Core),scatter9.concat(scatter9Core),scatter10.concat(scatter10Core),scatter11.concat(scatter11Core)];
const scatterFrames = [
 {l:23,r:204,t:69,b:238.7,xd:[2.644,6.038],yd:[-.0115,.2532],lx:31,ly:81},
 {l:268,r:452.6,t:69,b:238.7,xd:[2.632,6.03],yd:[-.053,.362],lx:276.7,ly:81},
 {l:520,r:702,t:69,b:238.7,xd:[3.16,6.8],yd:[-.1,.518],lx:529,ly:81},
 {l:770,r:951,t:69,b:238.7,xd:[3.069,5.505],yd:[-.0115,.2532],lx:777.8,ly:81},
 {l:20,r:204,t:269.3,b:439,xd:[3.066,5.513],yd:[-.044,.361],lx:28,ly:281.7},
 {l:268,r:452.6,t:269.3,b:439,xd:[2.585,6.415],yd:[-.051,.361],lx:276.7,ly:281.7},
 {l:520,r:702,t:269.3,b:439,xd:[4.48,8.27],yd:[-.0125,.2523],lx:529,ly:280.7},
 {l:770,r:951,t:269.3,b:439,xd:[4.5,8.27],yd:[-.0096,.1153],lx:777.8,ly:281.7},
 {l:20,r:204,t:469.3,b:640,xd:[4.51,8.27],yd:[-.072,.363],lx:28,ly:481.7},
 {l:268,r:452.6,t:469.3,b:640,xd:[1.936,5.864],yd:[-.0375,.267],lx:276.7,ly:481.7},
 {l:520,r:702,t:469.3,b:640,xd:[6.5,8.985],yd:[-.079,.509],lx:525.7,ly:481.7}];
const yTitleX = [8,257,506,755];
scatterSeries.forEach(function (pts, i) {
  const f = scatterFrames[i];
  const X = v => f.l + (v - f.xd[0]) / (f.xd[1] - f.xd[0]) * (f.r - f.l);
  const Y = v => f.b - (v - f.yd[0]) / (f.yd[1] - f.yd[0]) * (f.b - f.t);
  const g = group(root, 'scatter-panel-' + (i + 1));
  const xt = scatterXTicks[i], yt = scatterYTicks[i];
  xt.forEach(function (v, k) {
    gridLine(g, X(v), f.t, X(v), f.b, '#ececec', 1);
    if (k < xt.length - 1) gridLine(g, X((v + xt[k + 1]) / 2), f.t, X((v + xt[k + 1]) / 2), f.b, '#f5f5f5', .6);
    tickLine(g, X(v), f.b, X(v), f.b + 2, '#555', .5);
    tickText(g, X(v), f.b + 7.5, String(v.toFixed(String(v).includes('.') || xt.some(a => a % 1) ? 1 : 0)), 5.5, '#555', 'middle', .85);
  });
  yt.forEach(function (v, k) {
    gridLine(g, f.l, Y(v), f.r, Y(v), '#ececec', 1);
    if (k < yt.length - 1) gridLine(g, f.l, Y((v + yt[k + 1]) / 2), f.r, Y((v + yt[k + 1]) / 2), '#f5f5f5', .6);
    tickLine(g, f.l - 2, Y(v), f.l, Y(v), '#555', .5);
    tickText(g, f.l - 2.5, Y(v) + 2, v.toFixed(scatterYTickDigits[i]).replace('-', '\u2212'), 5.5, '#555', 'end', .8);
  });
  for (let k = 0; k + 1 < pts.length; k += 2) {
    const c = make('circle', {cx: X(pts[k]), cy: Y(pts[k + 1]), r: 1.65, fill: '#000'}, g);
    
    
  }
  const ci = fitCI[i];
  const xm = (fitStartX[i] + fitEndX[i]) / 2, ym = (fitStartY[i] + fitEndY[i]) / 2;
  const band = [[fitStartX[i], fitStartY[i] + ci], [(fitStartX[i] + xm) / 2, (fitStartY[i] + ym) / 2 + ci * .5], [xm, ym + ci * .3], [(fitEndX[i] + xm) / 2, (fitEndY[i] + ym) / 2 + ci * .5], [fitEndX[i], fitEndY[i] + ci],
    [fitEndX[i], fitEndY[i] - ci], [(fitEndX[i] + xm) / 2, (fitEndY[i] + ym) / 2 - ci * .5], [xm, ym - ci * .3], [(fitStartX[i] + xm) / 2, (fitStartY[i] + ym) / 2 - ci * .5], [fitStartX[i], fitStartY[i] - ci]];
  const ribbon = make('polygon', {points: band.map(p => X(p[0]) + ',' + Y(p[1])).join(' '), fill: '#999', 'fill-opacity': .42}, g);
  
  
  const fit = make('line', {x1: X(fitStartX[i]), y1: Y(fitStartY[i]), x2: X(fitEndX[i]), y2: Y(fitEndY[i]), stroke: '#3366FF', 'stroke-width': 1.5}, g);
  
  
  const box = make('rect', {x: f.l, y: f.t, width: f.r - f.l, height: f.b - f.t, fill: 'none', stroke: '#c4c4c4', 'stroke-width': 1.4}, g);
  
  
  const rt = make('text', {transform: 'translate(' + f.lx + ',' + (f.ly + 3) + ') scale(.82,1)', 'font-size': 8, fill: '#222'}, g);
  
  
  make('tspan', {'font-style': 'italic'}, rt, 'R');
  make('tspan', {}, rt, ' = ' + scatterR[i] + ', ');
  make('tspan', {'font-style': 'italic'}, rt, 'p');
  make('tspan', {}, rt, ' < 2.2e\u221216');
  titleText(g, (f.l + f.r) / 2 + (i > 3 ? 0 : 0), f.b + 14.5, scatterXLabels[i], 8, '#222', 'middle', 0, .79);
  titleText(g, yTitleX[i % 4], (f.t + f.b) / 2, scatterYLabels[i], 6.4, '#222', 'middle', -90, 1);
});

/* ---------- panel B ---------- */
const bPlot = {l: 1266, r: 1667, t: 79.3, b: 612, first: 85.3, last: 605.7, zero: 1497, perUnit: 590};
const bX = v => bPlot.zero + v * bPlot.perUnit;
const bY = i => bPlot.first + i * (bPlot.last - bPlot.first) / (immuneCells.length - 1);
const bGroup = group(root, 'immune-correlation-dotplot');
function softwareIndex(i) {
  let n = 0;
  for (let s = 0; s < softwareCounts.length; s++) {
    n += softwareCounts[s];
    if (i < n) return s;
  }
  return softwareCounts.length - 1;
}
corrMinorTicks.forEach(function (v) { gridLine(bGroup, bX(v), bPlot.t, bX(v), bPlot.b, '#d2d2d2', 1); });
corrMajorTicks.forEach(function (v, k) {
  gridLine(bGroup, bX(v), bPlot.t, bX(v), bPlot.b, '#b4b4b4', 1.6);
  tickLine(bGroup, bX(v), bPlot.b, bX(v), bPlot.b + 4, '#333', 1.2);
  tickText(bGroup, bX(v), bPlot.b + 15.5, corrTickLabels[k], 13, '#4d4d4d', 'middle', .95);
});
immuneCells.forEach(function (name, i) {
  gridLine(bGroup, bPlot.l, bY(i), bPlot.r, bY(i), '#b4b4b4', 1.6);
  tickLine(bGroup, bPlot.l - 4, bY(i), bPlot.l, bY(i), '#333', 1.2);
  const s = softwareIndex(i);
  const t = make('text', {transform: 'translate(1258,' + (bY(i) + 4.5) + ') scale(.89,1)', 'font-size': 13.5, fill: softwareColors[s], 'text-anchor': 'end'}, bGroup, name);
  
  
});
correlationValues.forEach(function (v, i) {
  const c = make('ellipse', {cx: bX(v), cy: bY(i), rx: 6.7, ry: 6.4, fill: softwareColors[softwareIndex(i)]}, bGroup);
  
  
});
const bBorder = make('rect', {x: bPlot.l, y: bPlot.t, width: bPlot.r - bPlot.l, height: bPlot.b - bPlot.t, fill: 'none', stroke: '#222', 'stroke-width': 1.6}, bGroup);


titleText(bGroup, 981, 345, 'Immune cell', 16, '#111', 'middle', -90, 1);
titleText(bGroup, 1466.5, 645, 'Correlation coefficient', 15.5, '#111', 'middle', 0, .96);
const softLegend = group(root, 'software-legend');
legendText(softLegend, 1690, 266, 'Software', 15, '#111');
const softBg = make('rect', {x: 1690, y: 274.7, width: 23, height: 163, fill: '#f2f2f2'}, softLegend);


softwareNames.forEach(function (n, i) {
  const cy = 286 + i * 23.38;
  const c = make('circle', {cx: 1701.7, cy, r: 7, fill: softwareColors[i]}, softLegend);
  
  
  legendText(softLegend, 1721, cy + 4.5, n, 12, '#222');
});

/* ---------- panel C ---------- */
const heatGroup = group(root, 'immune-checkpoint-heatmap');
const heatBg = make('rect', {x: 1901.7, y: 70, width: 505.3, height: 528.7, fill: '#bdbdbd'}, heatGroup);


const cellX = c => 1903.7 + c * 33.6;
const cellY = r => 72 + r * 11.71;
function heatColor(v) {
  const mix = (a, b, t) => a.map((x, i) => Math.round(x + (b[i] - x) * t));
  let rgb;
  if (v >= .15) rgb = mix([255, 154, 136], [238, 44, 44], Math.min((v - .15) / .18, 1));
  else if (v >= 0) rgb = mix([255, 255, 255], [255, 154, 136], v / .15);
  else rgb = mix([255, 255, 255], [108, 108, 184], Math.min(-v / .25, 1));
  return 'rgb(' + rgb.join(',') + ')';
}
heatGenes.forEach(function (gene, r) {
  const t = make('text', {x: 1893, y: cellY(r) + 9.5, 'font-size': 12, 'font-weight': 'bold', fill: '#333', 'text-anchor': 'end'}, heatGroup, gene);
  
  
  heatColumns.forEach(function (col, c) {
    const cell = make('rect', {x: cellX(c), y: cellY(r), width: 31.3, height: 9.6, fill: heatColor(heatValues[r][c] / 100)}, heatGroup);
    
    
    const n = +heatStars[r][c];
    if (n > 0) {
      const st = make('text', {x: cellX(c) + 15.65, y: cellY(r) + 9.2, 'font-size': 10.5, 'text-anchor': 'middle', fill: '#111'}, heatGroup, '*'.repeat(n));
      
      
    }
  });
});
heatColumns.forEach(function (col, c) {
  const t = make('text', {transform: 'translate(' + (cellX(c) + 21) + ',613) rotate(-45)', 'font-size': 12, fill: '#333', 'text-anchor': 'end'}, heatGroup, col);
  
  
});
const starLegend = group(root, 'significance-legend');
const starRows = [['***', 'p<0.001', 2429, 2451.7, 256.5], ['**', 'p<0.01', 2429, 2446.7, 270.5], ['*', 'p<0.05', 2433, 2445.3, 285]];
starRows.forEach(function (row) {
  legendText(starLegend, row[2], row[4] + 1, row[0], 13, '#222');
  legendText(starLegend, row[3], row[4], row[1], 13, '#222');
});
const corrLegend = group(root, 'correlation-legend');
legendText(corrLegend, 2429.3, 312.5, 'Correlation', 13, '#111');
const defs = make('defs', {}, corrLegend);
const grad = make('linearGradient', {id: 'corrGradient', x1: 0, y1: 0, x2: 0, y2: 1}, defs);
const gradStops = [[.34, 0], [.3, 0], [.15, 0], [0, 0], [-.1, 0], [-.29, 0]];
gradStops.forEach(function (s) {
  make('stop', {offset: ((.337 - s[0]) / .627), 'stop-color': heatColor(s[0])}, grad);
});
const corrBar = make('rect', {x: 2429.3, y: 320.7, width: 20.7, height: 103.3, fill: 'url(#corrGradient)'}, corrLegend);


heatLegendTicks.forEach(function (v, i) {
  const y = 376.3 - v * 163.5;
  tickText(corrLegend, 2456.7, y + 4, heatLegendLabels[i], 11.5, '#222', 'start', 1);
  tickLine(corrLegend, 2429.3, y, 2433.3, y, '#fff', .7);
  tickLine(corrLegend, 2446, y, 2450, y, '#fff', .7);
});

/* ---------- panel D ---------- */
const violinFrames = [
 {axis: 55, right: 557.5, lowX: 197.3, highX: 435.3, ya: [5, 1148.7], yb: [11, 784.3], titleX: 24, riskX: 205.6, statY: 832.8, statDrop: 4.8, statLabelX: 315.5, statLabelY: 829},
 {axis: 610.7, right: 1133.8, lowX: 753, highX: 991, ya: [4, 1152.3], yb: [10, 833], titleX: 579, riskX: 762, statY: 819.7, statDrop: 7, statLabelX: 872, statLabelY: 816},
 {axis: 1194.7, right: 1718, lowX: 1337.8, highX: 1575.9, ya: [6, 1092.7], yb: [10, 840], titleX: 1164, riskX: 1346.5, statY: 827, statDrop: 7.3, statLabelX: 1456.5, statLabelY: 823.7},
 {axis: 1779.3, right: 2302, lowX: 1922, highX: 2160, ya: [4, 1152.3], yb: [10, 833], titleX: 1747.5, riskX: 1930.8, statY: 819.7, statDrop: 7, statLabelX: 2040.7, statLabelY: 816}];
const violinSeries = [
 [[v1LowY, v1LowD, v1LowBox, v1LowOutliers], [v1HighY, v1HighD, v1HighBox, v1HighOutliers]],
 [[v2LowY, v2LowD, v2LowBox, v2LowOutliers], [v2HighY, v2HighD, v2HighBox, v2HighOutliers]],
 [[v3LowY, v3LowD, v3LowBox, v3LowOutliers], [v3HighY, v3HighD, v3HighBox, v3HighOutliers]],
 [[v4LowY, v4LowD, v4LowBox, v4LowOutliers], [v4HighY, v4HighD, v4HighBox, v4HighOutliers]]];
const riskColors = ['#F8766D', '#00BFC4'];
function smoothSegments(pts) {
  let d = '';
  for (let i = 0; i < pts.length - 1; i++) {
    const p0 = pts[Math.max(0, i - 1)], p1 = pts[i], p2 = pts[i + 1], p3 = pts[Math.min(pts.length - 1, i + 2)];
    d += 'C' + (p1[0] + (p2[0] - p0[0]) / 6).toFixed(2) + ' ' + (p1[1] + (p2[1] - p0[1]) / 6).toFixed(2) + ' ' + (p2[0] - (p3[0] - p1[0]) / 6).toFixed(2) + ' ' + (p2[1] - (p3[1] - p1[1]) / 6).toFixed(2) + ' ' + p2[0].toFixed(2) + ' ' + p2[1].toFixed(2);
  }
  return d;
}
violinFrames.forEach(function (f, i) {
  const g = group(root, 'violin-panel-' + (i + 1));
  const Y = v => f.ya[1] + (v - f.ya[0]) * (f.yb[1] - f.ya[1]) / (f.yb[0] - f.ya[0]);
  const centers = [f.lowX, f.highX];
  violinSeries[i].forEach(function (s, k) {
    const cx = centers[k];
    const right = s[0].map((y, n) => [cx + s[1][n] * 100, Y(y)]);
    const left = s[0].map((y, n) => [cx - s[1][n] * 100, Y(y)]).reverse();
    const d = 'M' + right[0][0] + ' ' + right[0][1] + smoothSegments(right) + smoothSegments(left) + 'Z';
    const v = make('path', {d, fill: riskColors[k], stroke: '#111', 'stroke-width': 1.3}, g);
    
    
    const b = s[2];
    const whisk = make('line', {x1: cx, x2: cx, y1: Y(b[0]), y2: Y(b[4]), stroke: '#111', 'stroke-width': 1.5}, g);
    
    
    const box = make('rect', {x: cx - 23.6, y: Y(b[3]), width: 47.2, height: Y(b[1]) - Y(b[3]), fill: '#fff', stroke: '#222', 'stroke-width': 1.4}, g);
    
    
    const med = make('line', {x1: cx - 23.6, x2: cx + 23.6, y1: Y(b[2]), y2: Y(b[2]), stroke: '#000', 'stroke-width': 3}, g);
    
    
    s[3].forEach(function (o) {
      const c = make('circle', {cx, cy: Y(o), r: 3.1, fill: '#000'}, g);
      
      
    });
  });
  const bracket = make('path', {d: 'M' + f.lowX + ' ' + (f.statY + f.statDrop) + 'V' + f.statY + 'H' + f.highX + 'V' + (f.statY + f.statDrop), fill: 'none', stroke: '#555', 'stroke-width': 1.4}, g);
  
  
  const pv = make('text', {x: f.statLabelX, y: f.statLabelY, 'font-size': 14, 'text-anchor': 'middle', fill: '#111'}, g, violinPValues[i]);
  
  
  const axY = make('line', {x1: f.axis, x2: f.axis, y1: 780, y2: 1153.2, stroke: '#222', 'stroke-width': 1.8}, g);
  
  
  const axX = make('line', {x1: f.axis, x2: f.right, y1: 1152.6, y2: 1152.6, stroke: '#222', 'stroke-width': 1.8}, g);
  
  
  violinYTicks[i].forEach(function (v) {
    tickLine(g, f.axis - 4, Y(v), f.axis, Y(v), '#222', 1.3);
    tickText(g, f.axis - 6, Y(v) + 6, String(v), 16, '#111', 'end', 1);
  });
  centers.forEach(function (cx, k) {
    tickLine(g, cx, 1152.6, cx, 1157, '#222', 1.3);
    tickText(g, cx, 1172, riskGroups[k], 16, '#111', 'middle', 1);
  });
  titleText(g, f.titleX, 966.5, violinTitles[i], 16, '#111', 'middle', -90, 1);
  const lg = group(g, 'risk-legend');
  legendText(lg, f.riskX, 749.8, 'Risk', 16, '#111');
  const key1 = f.riskX + 40.4, key2 = f.riskX + 133.5;
  const k1 = make('rect', {x: key1, y: 733, width: 22, height: 21.5, fill: riskColors[0], stroke: '#222', 'stroke-width': 1.3}, lg);
  
  
  const k2 = make('rect', {x: key2, y: 733, width: 22, height: 21.5, fill: riskColors[1], stroke: '#222', 'stroke-width': 1.3}, lg);
  
  
  legendText(lg, f.riskX + 71.4, 749, riskGroups[0], 13.5, '#111');
  legendText(lg, f.riskX + 164.6, 749, riskGroups[1], 13.5, '#111');
});
</script>
</body>
</html>
